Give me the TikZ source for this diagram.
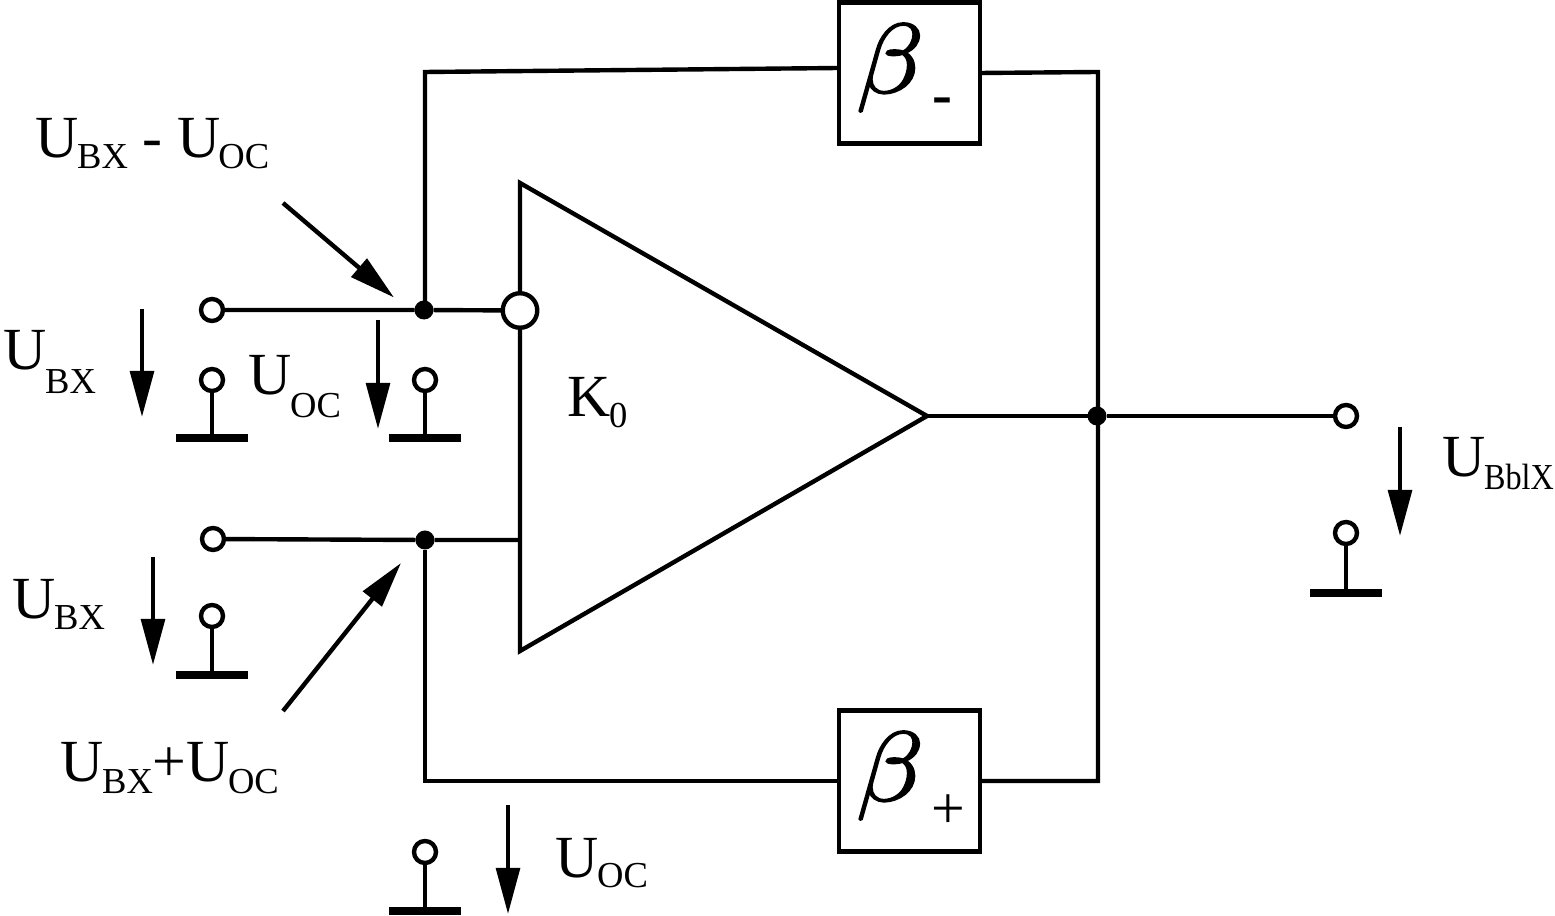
\documentclass[tikz,border=0pt]{standalone}
\usepackage{fontspec}
\usepackage{graphicx}
\setmainfont{Liberation Serif}
\usetikzlibrary{arrows.meta}
\newcommand{\SubT}[2]{\kern-0.5pt\raisebox{-#1pt}{\fontsize{10.4}{12}\selectfont #2}}
\newcommand{\BetaT}{\scalebox{1.27}[1.13]{\special{pdf:code 2 Tr 0.45 w}\Huge$\beta$\special{pdf:code 0 Tr 0.4 w}}}
\begin{document}
\begin{tikzpicture}[x=0.01cm,y=-0.01cm,
  wire/.style={line width=1.25pt,black},
  term/.style={circle,draw=black,line width=1.25pt,fill=white,minimum size=0.22cm,inner sep=0pt,outer sep=0pt},
  bigterm/.style={circle,draw=black,line width=1.25pt,fill=white,minimum size=0.345cm,inner sep=0pt,outer sep=0pt},
  dot/.style={circle,fill=black,minimum size=0.19cm,inner sep=0pt,outer sep=0pt},
  gnd/.style={line width=2.3pt,black},
  arr/.style={line width=1.25pt,black,-{Triangle[length=0.46cm,width=0.235cm]}},
  fbbox/.style={draw=black,line width=1.25pt,fill=white,minimum size=1.41cm,inner sep=0pt,outer sep=0pt},
  lab/.style={inner sep=0pt,anchor=base west,font=\fontsize{17}{20}\selectfont},
  betan/.style={inner sep=0pt}]
\useasboundingbox (0,0) rectangle (1555,916);
% boxes
\node[fbbox] (bm) at (909.5,73) {};
\node[fbbox] (bp) at (909.5,781) {};
\begin{scope}
\node[betan] (tm) at (890,68) {\BetaT};
\end{scope}
\begin{scope}
\node[betan] (tp) at (890,776) {\BetaT};
\end{scope}
\node[inner sep=0pt,font=\fontsize{17}{20}\selectfont\bfseries] (sm) at (942,106) {-};
\node[inner sep=0pt,font=\fontsize{17}{20}\selectfont] (sp) at (948,812) {+};
% amp
\coordinate (a1) at (520,183);
\coordinate (a2) at (520,651);
\coordinate (a3) at (927,416);
\draw[wire,line join=miter] (a1) -- (a3) -- (a2) -- cycle;
% nodes
\node[dot] (d1) at (424,310) {};
\node[dot] (d2) at (425,540) {};
\node[dot] (d3) at (1097,416) {};
\node[bigterm] (inv) at (520,310.5) {};
\node[term] (i1) at (212,310) {};
\node[term] (i2) at (213,539) {};
\node[term] (out) at (1346,416) {};
\coordinate (c1) at (425,72);
\coordinate (c2) at (1098,72);
\coordinate (c3) at (1098,781);
\coordinate (c4) at (425,781);
\coordinate (e2) at (520,540);
\coordinate (d1t) at (425,310);
\coordinate (bmw) at (839,68);
\draw[wire] (i1) -- (d1) -- (inv);
\draw[wire] (i2) -- (d2) -- (e2);
\draw[wire,line join=miter] (d1t) -- (c1) -- (bmw);
\draw[wire,line join=miter] (bm.east) -- (c2) -- (c3) -- (bp.east);
\draw[wire,line join=miter] (d2) -- (c4) -- (bp.west);
\draw[wire] (a3) -- (d3) -- (out);
% grounds
\foreach \n/\x/\y in {g1/212/380,g2/425/380,g3/212/616,g4/1346/533,g5/425/852}{
  \node[term] (\n) at (\x,\y) {};
}
\coordinate (g1b) at (212,438);
\coordinate (g2b) at (425,438);
\coordinate (g3b) at (212,675);
\coordinate (g4b) at (1346,593);
\coordinate (g5b) at (425,911);
\foreach \n in {g1,g2,g3,g4,g5}{
  \draw[wire] (\n) -- (\n b);
  \draw[gnd] ([xshift=-0.36cm]\n b) -- ([xshift=0.36cm]\n b);
}
% arrows
\foreach \n/\x/\ya/\yb in {1/142/309/417,2/378/320/429,3/153/557/665,4/1400/427/536,5/508/805/914}{
  \coordinate (s\n) at (\x,\ya);
  \coordinate (t\n) at (\x,\yb);
  \draw[arr] (s\n) -- (t\n);
}
\coordinate (s6) at (283,203);
\coordinate (t6) at (394,297.5);
\draw[arr] (s6) -- (t6);
\coordinate (s7) at (283,711);
\coordinate (t7) at (401,563);
\draw[arr] (s7) -- (t7);
% labels
\node[lab] (l1) at (35,158) {U\SubT{3}{BX} - \hspace{-0.2pt}U\SubT{3}{OC}};
\node[lab] (l2) at (3,370) {U\SubT{6.8}{BX}};
\node[lab] (l3) at (248,395) {U\SubT{6.5}{OC}};
\node[lab] (l4) at (12,619) {U\SubT{3}{BX}};
\node[lab] (l5) at (60,781) {U\SubT{3.5}{BX}+U\SubT{3.5}{OC}};
\node[lab] (l6) at (567,417) {K\SubT{3}{0}};
\node[lab] (l7) at (555,877) {U\SubT{3}{OC}};
\node[lab] (l8) at (1442,477) {U\kern-0.5pt\raisebox{-3.5pt}{\scalebox{0.88}[1]{\fontsize{10.4}{12}\selectfont BblX}}};
\end{tikzpicture}
\end{document}
